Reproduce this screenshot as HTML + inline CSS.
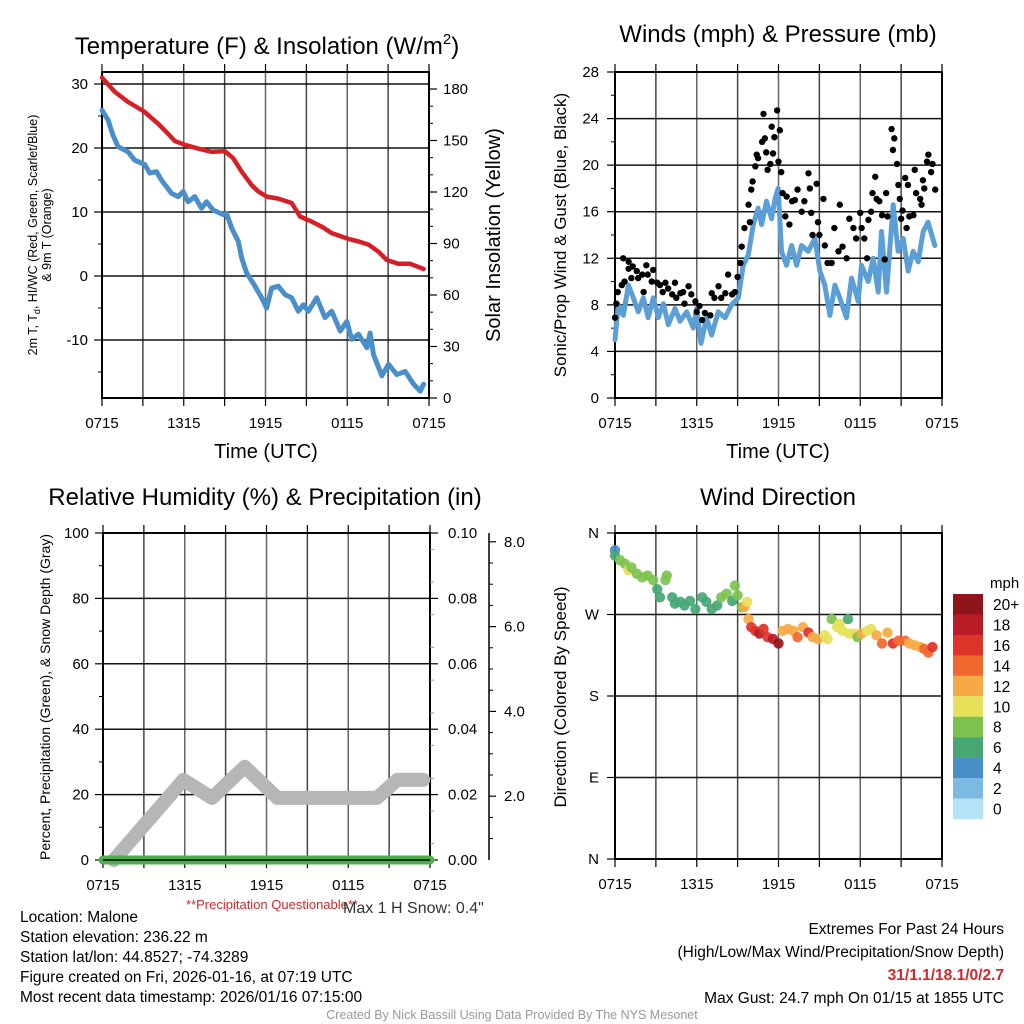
<!DOCTYPE html>
<html><head><meta charset="utf-8"><style>
html,body{margin:0;padding:0;background:#fff;}
svg{display:block;font-family:"Liberation Sans",Arial,sans-serif;}
</style></head><body>
<svg id="fig" width="1024" height="1024" viewBox="0 0 1024 1024" xmlns="http://www.w3.org/2000/svg">
<rect width="1024" height="1024" fill="#fff"/>
<g id="layer"></g>
<text x="267" y="54" font-size="24" text-anchor="middle">Temperature (F) &amp; Insolation (W/m<tspan font-size="15" dy="-10">2</tspan><tspan dy="10">)</tspan></text>
<text x="778" y="42" font-size="24" text-anchor="middle">Winds (mph) &amp; Pressure (mb)</text>
<text x="265" y="505" font-size="24" text-anchor="middle">Relative Humidity (%) &amp; Precipitation (in)</text>
<text x="778" y="505" font-size="24" text-anchor="middle">Wind Direction</text>
<text x="266" y="458" font-size="20" text-anchor="middle">Time (UTC)</text>
<text x="778" y="458" font-size="20" text-anchor="middle">Time (UTC)</text>
<text transform="translate(37,235) rotate(-90)" font-size="12.5" text-anchor="middle">2m T, T<tspan font-size="9" dy="3">d</tspan><tspan dy="-3">, HI/WC (Red, Green, Scarlet/Blue)</tspan></text>
<text transform="translate(51,235) rotate(-90)" font-size="12.5" text-anchor="middle">&amp; 9m T (Orange)</text>
<text transform="translate(500,235) rotate(-90)" font-size="20" text-anchor="middle">Solar Insolation (Yellow)</text>
<text transform="translate(566,235) rotate(-90)" font-size="17" text-anchor="middle">Sonic/Prop Wind &amp; Gust (Blue, Black)</text>
<text transform="translate(50,697) rotate(-90)" font-size="14" text-anchor="middle">Percent, Precipitation (Green), &amp; Snow Depth (Gray)</text>
<text transform="translate(566,697) rotate(-90)" font-size="17" text-anchor="middle">Direction (Colored By Speed)</text>
<text x="990" y="588" font-size="15">mph</text>
<text x="186" y="909" font-size="13" fill="#d62728">**Precipitation Questionable**</text>
<text x="343" y="913" font-size="16" fill="#333">Max 1 H Snow: 0.4"</text>
<g font-size="15.5">
<text x="20" y="922">Location: Malone</text>
<text x="20" y="942">Station elevation: 236.22 m</text>
<text x="20" y="962">Station lat/lon: 44.8527; -74.3289</text>
<text x="20" y="982">Figure created on Fri, 2026-01-16, at 07:19 UTC</text>
<text x="20" y="1002">Most recent data timestamp: 2026/01/16 07:15:00</text>
</g>
<g font-size="15.5" text-anchor="end">
<text x="1004" y="934">Extremes For Past 24 Hours</text>
<text x="1004" y="957">(High/Low/Max Wind/Precipitation/Snow Depth)</text>
<text x="1004" y="980" fill="#d62728" font-weight="bold">31/1.1/18.1/0/2.7</text>
<text x="1004" y="1003">Max Gust: 24.7 mph On 01/15 at 1855 UTC</text>
</g>
<text x="512" y="1019" font-size="12.5" fill="#999" text-anchor="middle">Created By Nick Bassill Using Data Provided By The NYS Mesonet</text>
</svg>
<script>
// ---------- data ----------
const xTickLabels = ["0715","1315","1915","0115","0715"];
const tempTicks = [30,20,10,0,-10];
const insolTicks = [0,30,60,90,120,150,180];
const windTicks = [0,4,8,12,16,20,24,28];
const rhTicks = [0,20,40,60,80,100];
const precipTicks = ["0.00","0.02","0.04","0.06","0.08","0.10"];
const snowTicks = ["2.0","4.0","6.0","8.0"];
const dirTicks = ["N","E","S","W","N"];
const speedBins = ["0","2","4","6","8","10","12","14","16","18","20+"];
const speedColors = ["#b4e3f8","#7cb9e3","#4a8ec6","#46a774","#7dc24f","#e6e158","#f7a945","#f0682d","#de3329","#ba1c26","#8f141c"];

const redHours = [0,0.93,1.91,3.09,4.12,4.73,5.34,6.08,7.06,8.04,9.02,9.63,10.25,10.98,11.47,12.08,12.94,13.92,14.53,15.39,16.13,16.86,18.09,18.82,19.56,20.29,20.9,21.76,22.62,23.6];
const redTemp = [31,28.8,27.2,25.7,23.8,22.5,21.1,20.5,19.9,19.4,19.5,18.4,16.3,14.2,13.2,12.4,12.1,11.4,9.3,8.5,7.7,6.7,5.8,5.4,4.9,3.8,2.5,1.9,1.9,1.1];
const blueHours = [0,0.44,0.81,1.18,1.91,2.4,3.14,3.5,4.0,4.36,5.1,5.59,5.96,6.32,6.81,7.3,7.67,8.16,8.9,9.14,9.51,10.0,10.25,10.61,11.23,11.72,12.08,12.45,12.94,13.43,13.92,14.41,14.78,15.15,15.76,16.37,16.86,17.48,17.97,18.33,18.82,19.44,19.68,19.93,20.54,21.03,21.64,22.25,22.87,23.36,23.6];
const blueTemp = [25.9,24.4,22,20.2,19.4,18.1,17.4,16.1,16.3,15,12.9,12.4,13.2,11.6,12.4,10.6,11.6,10.3,9.6,9.8,7.5,5.4,2.8,0.5,-1.6,-3.4,-5,-1.9,-1.6,-2.9,-3.4,-5.5,-4.5,-5.5,-3.4,-6.5,-5.5,-8.6,-7.1,-9.9,-9.1,-11.2,-8.9,-12.3,-15.6,-13.8,-15.4,-14.9,-16.9,-18,-16.9];

const windHours = [0,0.24,0.61,0.98,1.34,1.71,2.08,2.44,2.81,3.18,3.55,3.91,4.4,4.77,5.26,5.75,5.99,6.31,6.72,7.09,7.58,8.07,8.56,9.05,9.41,9.78,10.15,10.51,10.76,11.12,11.49,11.74,11.98,12.22,12.59,12.96,13.33,13.69,14.18,14.67,15.04,15.4,15.77,16.14,16.5,16.99,17.36,17.85,18.09,18.58,18.95,19.32,19.56,19.93,20.42,20.78,21.15,21.52,21.88,22.25,22.62,22.98,23.47];
const windSpeed = [5.0,8.0,7.1,9.7,8.6,7.4,8.6,6.9,8.6,6.9,8.1,6.3,7.7,6.6,7.4,6.0,7.7,4.7,6.9,5.4,7.4,6.9,8.0,8.6,11.4,12.3,14.9,16.3,14.9,16.9,15.4,17.1,18.0,12.6,11.4,13.1,11.4,13.1,12.6,13.7,10.9,9.7,7.1,9.7,8.6,6.9,10.3,8.3,11.4,10.0,12.0,9.1,14.3,9.1,16.6,12.6,13.7,10.9,12.6,11.7,14.3,15.1,13.1];
const gustHours = [0.0,0.1,0.2,0.5,0.6,0.7,1.0,1.0,1.2,1.3,1.6,1.7,2.0,2.1,2.3,2.4,2.7,2.8,3.1,3.3,3.5,3.7,3.9,4.2,4.4,4.5,4.8,5.0,5.1,5.4,5.6,5.9,6.0,6.2,6.4,6.6,7.0,7.1,7.3,7.6,7.8,8.1,8.3,8.6,8.8,9.0,9.2,9.3,9.5,9.8,9.9,10.0,10.1,10.3,10.4,10.5,10.8,10.9,11.0,11.1,11.2,11.4,11.5,11.6,11.7,11.9,12.0,12.1,12.2,12.3,12.5,12.6,12.8,13.0,13.2,13.4,13.7,13.9,14.2,14.3,14.4,14.5,14.8,14.9,15.0,15.3,15.4,15.6,15.9,16.1,16.4,16.5,16.7,17.0,17.2,17.5,17.7,18.0,18.1,18.3,18.5,18.6,18.8,18.9,19.1,19.2,19.4,19.6,19.8,19.9,20.0,20.3,20.4,20.5,20.7,20.8,20.9,21.0,21.1,21.3,21.4,21.5,21.6,21.9,22.0,22.1,22.4,22.5,22.6,22.7,22.9,23.0,23.2,23.3,23.5];
const gustSpeed = [6.9,8.1,9.1,9.7,12.0,10.0,11.1,11.7,10.3,11.3,10.9,10.3,10.6,9.1,11.4,10.6,10.0,11.0,9.9,9.7,9.1,9.9,9.4,8.9,9.9,8.6,9.0,9.1,8.1,9.6,8.9,8.3,7.4,7.9,6.7,7.3,7.1,9.0,8.6,9.6,8.6,9.0,10.6,8.9,9.1,10.4,11.6,13.0,14.6,16.6,15.1,17.9,18.6,19.9,20.9,20.6,22.0,24.4,22.3,21.1,19.6,20.1,23.3,21.0,22.4,24.7,20.3,23.0,19.4,17.6,15.6,17.3,14.9,16.9,17.0,17.9,16.0,16.9,19.3,18.0,15.9,14.0,18.4,15.1,14.0,17.1,13.1,11.6,11.6,14.6,12.6,16.6,13.0,12.0,15.4,14.6,13.7,15.9,14.6,13.7,12.0,15.3,16.0,17.6,19.0,17.1,16.9,15.7,11.9,17.6,15.6,23.1,21.3,22.3,20.1,18.3,17.1,15.4,16.1,18.9,14.6,18.3,15.6,15.7,19.6,17.6,17.1,16.6,18.7,18.0,20.3,20.9,19.4,20.1,17.9];

const snowHours = [0.8,5.9,8.0,10.4,12.8,20.1,21.6,23.5];
const snowPct = [0,24.5,19,28.5,19,19,24.5,24.5];
const precipHours = [0,24];
const precipVals = [0,0];

const dirHours = [0,0,0.37,0.73,0.98,1.2,1.6,2.0,2.4,2.8,3.1,3.3,3.7,3.8,4.2,4.4,4.8,5.1,5.5,5.9,6.4,6.7,7.1,7.5,7.8,8.2,8.6,8.8,9.0,9.3,9.5,9.7,9.8,10.0,10.3,10.6,10.9,11.2,11.6,12.0,12.3,12.7,13.1,13.4,13.8,14.2,14.5,14.9,15.4,15.6,15.9,16.3,16.5,16.7,17.1,17.2,17.6,17.8,18.1,18.5,18.8,19.2,19.6,20.0,20.4,20.8,21.3,21.6,22.0,22.4,22.7,23.0,23.3];
const dirDeg = [341,335,330,326,319,322,315,311,313,308,298,289,308,313,289,282,284,280,285,276,289,284,276,280,289,293,285,302,291,278,278,284,265,256,252,249,254,245,243,238,252,254,252,245,256,250,245,243,247,243,265,256,260,252,265,249,249,245,249,252,254,247,238,250,238,241,241,238,236,234,232,228,234];
const dirSpeed = [4.5,6.5,8.5,8.5,10.5,8.5,8.5,8.5,8.5,8.5,6.5,6.5,8.5,8.5,6.5,6.5,6.5,6.5,6.5,6.5,6.5,6.5,6.5,6.5,8.5,8.5,6.5,8.5,8.5,8.5,12.5,10.5,12.5,16.5,16.5,18.5,16.5,16.5,18.5,20.5,12.5,12.5,12.5,14.5,12.5,16.5,12.5,12.5,10.5,10.5,8.5,10.5,10.5,10.5,6.5,10.5,10.5,8.5,12.5,10.5,10.5,12.5,14.5,12.5,16.5,14.5,14.5,12.5,12.5,12.5,14.5,14.5,16.5];

// ---------- scales ----------
const NS="http://www.w3.org/2000/svg";
const layer=document.getElementById('layer');
function mk(tag,attrs,parent){const e=document.createElementNS(NS,tag);for(const k in attrs)e.setAttribute(k,attrs[k]);(parent||layer).appendChild(e);return e;}
const P1={l:102,r:429,t:72,b:398}, P2={l:615,r:942,t:72,b:398}, P3={l:103,r:430,t:533,b:860}, P4={l:615,r:942,t:533,b:859};
const xs=(P,h)=>P.l+h*(P.r-P.l)/24;
const yT=v=>276-v*6.4;
const yS=v=>398-v*(309/180);
const yW=v=>P2.b-v*(P2.b-P2.t)/28;
const yR=v=>P3.b-v*(P3.b-P3.t)/100;
const yP=v=>P3.b-v*(P3.b-P3.t)/0.1;
const ySn=v=>881-v*42.4;
const yD=d=>P4.b-d*(P4.b-P4.t)/360;

function frame(P,name,hlines,tickY,minorY){
  const g=mk('g',{});
  
  
  for(let i=1;i<8;i++){const x=xs(P,i*3);mk('line',{x1:x,x2:x,y1:P.t,y2:P.b,stroke:i%2?'#444':'#666','stroke-width':1.5},g);}
  hlines.forEach(y=>mk('line',{x1:P.l,x2:P.r,y1:y,y2:y,stroke:'#111','stroke-width':1.5},g));
  mk('rect',{x:P.l,y:P.t,width:P.r-P.l,height:P.b-P.t,fill:'none',stroke:'#000','stroke-width':2},g);
  for(let i=0;i<=8;i++){const x=xs(P,i*3);mk('line',{x1:x,x2:x,y1:P.b,y2:P.b+8,stroke:'#000','stroke-width':1.2},g);mk('line',{x1:x,x2:x,y1:P.t,y2:P.t-8,stroke:'#000','stroke-width':1.2},g);}
  tickY.forEach(y=>mk('line',{x1:P.l-8,x2:P.l,y1:y,y2:y,stroke:'#000','stroke-width':1.2},g));
  minorY.forEach(y=>mk('line',{x1:P.l-4,x2:P.l,y1:y,y2:y,stroke:'#000','stroke-width':1},g));
  xTickLabels.forEach((s,i)=>{const t=mk('text',{x:xs(P,i*6),y:P.b+30,'font-size':15,'text-anchor':'middle'},g);t.textContent=s;});
  return g;
}
function pathD(xArr,yArr,fx,fy){return xArr.map((h,i)=>(i?'L':'M')+fx(h).toFixed(1)+','+fy(yArr[i]).toFixed(1)).join(' ');}

// ---------- panel 1 ----------
const g1=frame(P1,'temperature-panel',tempTicks.map(yT),tempTicks.map(yT),[25,15,5,-5,-15].map(yT));
tempTicks.forEach(v=>{const t=mk('text',{x:P1.l-14,y:yT(v)+5,'font-size':15,'text-anchor':'end'},g1);t.textContent=v;});
insolTicks.forEach(v=>{mk('line',{x1:P1.r,x2:P1.r+8,y1:yS(v),y2:yS(v),stroke:'#000','stroke-width':1.2},g1);const t=mk('text',{x:P1.r+14,y:yS(v)+5,'font-size':15},g1);t.textContent=v;});
for(let v=10;v<190;v+=10){if(v%30)mk('line',{x1:P1.r,x2:P1.r+4,y1:yS(v),y2:yS(v),stroke:'#000','stroke-width':1},g1);}
const redLine=mk('path',{d:pathD(redHours,redTemp,h=>xs(P1,h),yT),fill:'none',stroke:'#d62027','stroke-width':4.5,'stroke-linejoin':'round','stroke-linecap':'round'});


const blueLine=mk('path',{d:pathD(blueHours,blueTemp,h=>xs(P1,h),yT),fill:'none',stroke:'#4a8fc9','stroke-width':5,'stroke-linejoin':'round','stroke-linecap':'round'});



// ---------- panel 2 ----------
const g2=frame(P2,'winds-panel',windTicks.map(yW),windTicks.map(yW),[2,6,10,14,18,22,26].map(yW));
windTicks.forEach(v=>{const t=mk('text',{x:P2.l-16,y:yW(v)+5,'font-size':15,'text-anchor':'end'},g2);t.textContent=v;});
const wl=mk('path',{d:pathD(windHours,windSpeed,h=>xs(P2,h),yW),fill:'none',stroke:'#5b9fd6','stroke-width':5,'stroke-linejoin':'round','stroke-linecap':'round'});


const gg=mk('g',{fill:'#000'});


gustHours.forEach((h,i)=>{const c=mk('circle',{cx:xs(P2,h),cy:yW(gustSpeed[i]),r:3.2},gg);});

// ---------- panel 3 ----------
const g3=frame(P3,'humidity-panel',rhTicks.map(yR),rhTicks.map(yR),[10,30,50,70,90].map(yR));
rhTicks.forEach(v=>{const t=mk('text',{x:P3.l-14,y:yR(v)+5,'font-size':15,'text-anchor':'end'},g3);t.textContent=v;});
precipTicks.forEach((s,i)=>{const y=yP(i*0.02);mk('line',{x1:P3.r,x2:P3.r+8,y1:y,y2:y,stroke:'#000','stroke-width':1.2},g3);const t=mk('text',{x:P3.r+18,y:y+5,'font-size':15},g3);t.textContent=s;});
for(let i=1;i<20;i+=2){const y=yP(i*0.005);mk('line',{x1:P3.r,x2:P3.r+4,y1:y,y2:y,stroke:'#999','stroke-width':1},g3);}
const sa=mk('g',{});


mk('line',{x1:489,x2:489,y1:P3.t,y2:P3.b,stroke:'#000','stroke-width':1.5},sa);
snowTicks.forEach(s=>{const y=ySn(parseFloat(s));mk('line',{x1:489,x2:496,y1:y,y2:y,stroke:'#000','stroke-width':1.2},sa);const t=mk('text',{x:504,y:y+5,'font-size':15},sa);t.textContent=s;});
for(let v=1;v<=8;v+=0.5){if(v%2)mk('line',{x1:489,x2:493,y1:ySn(v),y2:ySn(v),stroke:'#000','stroke-width':1},sa);}
const sl=mk('path',{d:pathD(snowHours,snowPct,h=>xs(P3,h),yR),fill:'none',stroke:'#b6b6b6','stroke-width':14,'stroke-linejoin':'round','stroke-linecap':'round'});


const pl=mk('path',{d:pathD(precipHours,precipVals,h=>xs(P3,h),yP),fill:'none',stroke:'#4cb04a','stroke-width':9,'stroke-linecap':'round'});


mk('line',{x1:P3.l,x2:P3.r,y1:P3.b,y2:P3.b,stroke:'#000','stroke-width':1.5});

// ---------- panel 4 ----------
const dirVals=[0,90,180,270,360];
const g4=frame(P4,'wind-direction-panel',dirVals.map(yD),dirVals.map(yD),[]);
dirTicks.forEach((s,i)=>{const t=mk('text',{x:P4.l-16,y:yD(dirVals[i])+5,'font-size':15,'text-anchor':'end'},g4);t.textContent=s;});
const dg=mk('g',{'fill-opacity':0.92});


function speedColor(s){return speedColors[Math.min(10,Math.floor(s/2))];}
dirHours.forEach((h,i)=>{const c=mk('circle',{cx:xs(P4,h),cy:yD(dirDeg[i]),r:5.2,fill:speedColor(dirSpeed[i])},dg);});
const cb=mk('g',{});


speedBins.forEach((s,i)=>{const k=10-i;const y=594+i*20.45;mk('rect',{x:953,y:y,width:30,height:20.6,fill:speedColors[k]},cb);const t=mk('text',{x:993,y:y+16,'font-size':15.5},cb);t.textContent=speedBins[k];});
</script>
</body></html>
